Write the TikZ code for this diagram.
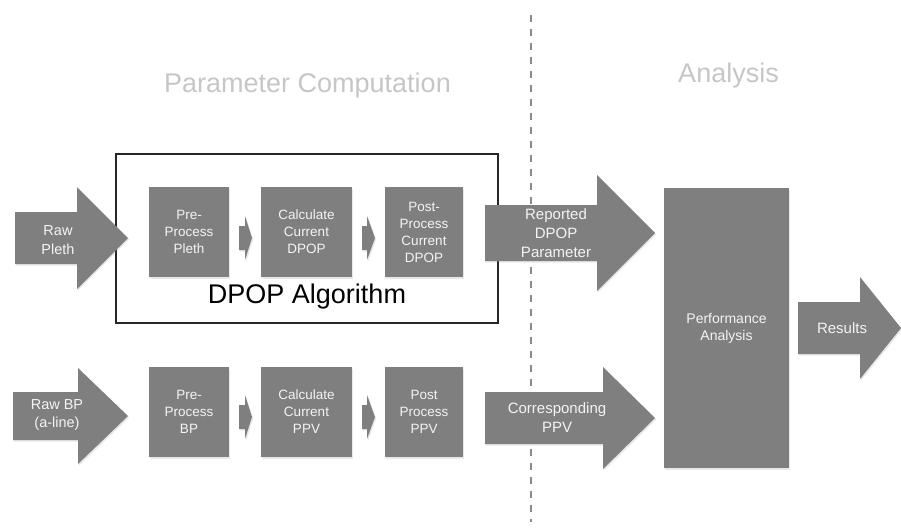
\documentclass[tikz,border=0pt]{standalone}
\usepackage{fontspec}
\setmainfont{Liberation Sans}
\usetikzlibrary{shadows}
\definecolor{boxgray}{HTML}{7F7F7F}
\definecolor{txtw}{HTML}{F4F4F4}
\definecolor{titlegray}{HTML}{C6C6C6}
\definecolor{dashgray}{HTML}{8A8A8A}
\newcommand\blockarr[6]{% x0 xb xt yc halfshaft halfhead
  \fill[arrfill] (#1,{#4-#5}) -- (#2,{#4-#5}) -- (#2,{#4-#6}) -- (#3,#4)
     -- (#2,{#4+#6}) -- (#2,{#4+#5}) -- (#1,{#4+#5}) -- cycle;}
\tikzset{
  arrfill/.style={boxgray, drop shadow={opacity=0.18, shadow xshift=1.2pt, shadow yshift=-1.5pt}},
  stepbox/.style={fill=boxgray, draw=none, inner sep=0pt, text=txtw, align=center,
    font=\fontsize{13.5}{17}\selectfont,
    drop shadow={opacity=0.18, shadow xshift=1.2pt, shadow yshift=-1.5pt}},
  arrtext/.style={text=txtw, align=center, inner sep=0pt, font=\fontsize{14.5}{18.5}\selectfont},
  titletext/.style={text=titlegray, inner sep=0pt, anchor=base, font=\fontsize{27}{30}\selectfont},
}
\begin{document}
\begin{tikzpicture}[x=1pt,y=-1pt]
\useasboundingbox (0,0) rectangle (901,528);

% section titles and divider
\node[titletext] (tparam) at (307.5,92) {Parameter Computation};
\node[titletext] (tanal) at (728.5,82) {Analysis};
\coordinate (dtop) at (531,15);
\coordinate (dbot) at (531,522);
\draw[dashgray, line width=1.1pt, dash pattern=on 7pt off 7pt] (dtop) -- (dbot);

% DPOP algorithm frame
\draw[black!85, line width=1.8pt] (116,154) rectangle (498,323);
\node[inner sep=0pt, anchor=base, font=\fontsize{27}{30}\selectfont] (algo) at (307,303) {DPOP Algorithm};

% block arrows (input / output)
\blockarr{15}{77}{128}{238}{26}{51}
\node[arrtext] (rawpleth) at (58,240) {Raw\\Pleth};
\blockarr{13}{78}{128}{416}{24}{48}
\node[arrtext] (rawbp) at (57,415) {Raw BP\\(a-line)};
\blockarr{485}{597}{655}{233}{28}{58}
\node[arrtext, font=\fontsize{15}{19}\selectfont] (reported) at (556,233) {Reported\\DPOP\\Parameter};
\blockarr{485}{603}{655}{418}{26}{51}
\node[arrtext, font=\fontsize{15}{19}\selectfont] (corr) at (557,418) {Corresponding\\PPV};
\blockarr{798}{860}{901}{328}{26}{51}
\node[arrtext, font=\fontsize{15}{19}\selectfont] (results) at (842,328) {Results};

% small arrows between steps
\blockarr{239}{245}{252}{238}{12}{22}
\blockarr{362}{367}{375}{238}{12}{22}
\blockarr{239}{245}{252}{417}{12}{22}
\blockarr{362}{367}{375}{417}{12}{22}

% step boxes, top row
\node[stepbox, minimum width=80pt, minimum height=90pt] (prepleth) at (189,232) {Pre-\\Process\\Pleth};
\node[stepbox, minimum width=91pt, minimum height=90pt] (calcdpop) at (306.5,232) {Calculate\\Current\\DPOP};
\node[stepbox, minimum width=78pt, minimum height=90pt] (postdpop) at (424,232) {Post-\\Process\\Current\\DPOP};

% step boxes, bottom row
\node[stepbox, minimum width=80pt, minimum height=90pt] (prebp) at (189,412) {Pre-\\Process\\BP};
\node[stepbox, minimum width=91pt, minimum height=90pt] (calcppv) at (306.5,412) {Calculate\\Current\\PPV};
\node[stepbox, minimum width=78pt, minimum height=90pt] (postppv) at (424,412) {Post\\Process\\PPV};

% performance analysis
\node[stepbox, minimum width=125pt, minimum height=280pt, font=\fontsize{14}{17}\selectfont] (perf) at (726.5,328) {Performance\\Analysis};
\end{tikzpicture}
\end{document}
